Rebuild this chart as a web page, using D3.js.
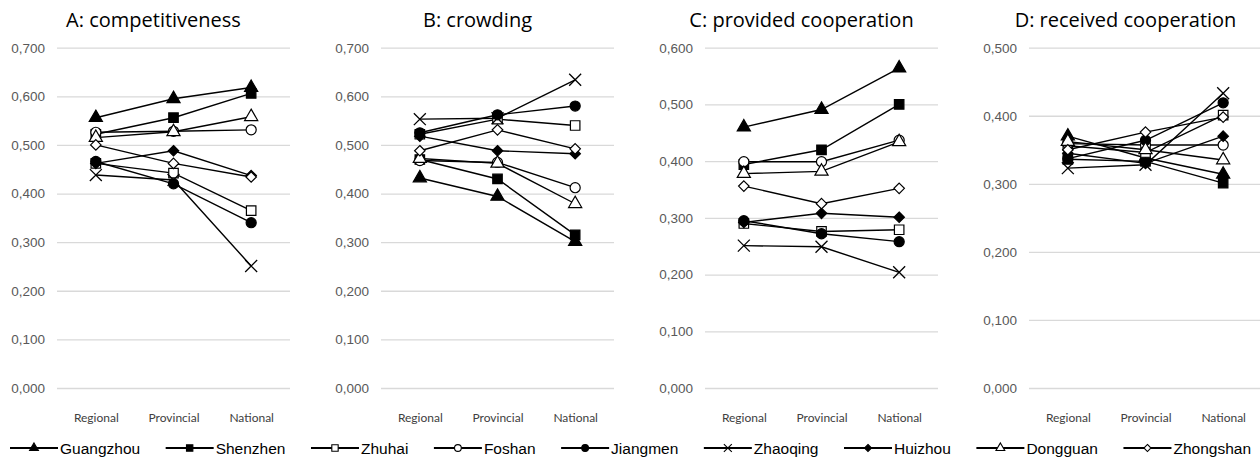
<!DOCTYPE html>
<html>
<head>
<meta charset="utf-8">
<script src="https://cdn.jsdelivr.net/npm/d3@7"></script>
<style>
body { margin: 0; background: #fff; }
svg { display: block; }
</style>
</head>
<body>
<svg id="chart" width="1260" height="467"></svg>
<script>
var categories = ["Regional", "Provincial", "National"];
var cities = ["Guangzhou", "Shenzhen", "Zhuhai", "Foshan", "Jiangmen", "Zhaoqing", "Huizhou", "Dongguan", "Zhongshan"];
var titles = ["A: competitiveness", "B: crowding", "C: provided cooperation", "D: received cooperation"];
var axisMax = [0.7, 0.7, 0.6, 0.5];

// rows follow the order of cities, columns follow categories
var competitiveness = [
    [0.556, 0.595, 0.618],
    [0.522, 0.556, 0.606],
    [0.462, 0.442, 0.365],
    [0.526, 0.528, 0.531],
    [0.466, 0.420, 0.340],
    [0.438, 0.428, 0.251],
    [0.462, 0.488, 0.437],
    [0.515, 0.527, 0.558],
    [0.500, 0.462, 0.434]
];
var crowding = [
    [0.432, 0.394, 0.301],
    [0.470, 0.430, 0.315],
    [0.522, 0.553, 0.540],
    [0.468, 0.464, 0.412],
    [0.525, 0.562, 0.580],
    [0.553, 0.555, 0.634],
    [0.518, 0.488, 0.482],
    [0.472, 0.462, 0.379],
    [0.488, 0.531, 0.492]
];
var providedCooperation = [
    [0.460, 0.491, 0.564],
    [0.394, 0.420, 0.500],
    [0.290, 0.276, 0.279],
    [0.399, 0.399, 0.437],
    [0.295, 0.272, 0.258],
    [0.251, 0.249, 0.204],
    [0.292, 0.308, 0.301],
    [0.378, 0.382, 0.434],
    [0.356, 0.325, 0.352]
];
var receivedCooperation = [
    [0.370, 0.338, 0.314],
    [0.336, 0.333, 0.301],
    [0.356, 0.346, 0.401],
    [0.359, 0.357, 0.357],
    [0.337, 0.364, 0.419],
    [0.323, 0.328, 0.433],
    [0.345, 0.330, 0.370],
    [0.362, 0.350, 0.335],
    [0.350, 0.376, 0.398]
];
var panelValues = [competitiveness, crowding, providedCooperation, receivedCooperation];

// marker per city: shape, filled?
var markers = {
    Guangzhou: [d3.symbolTriangle, true],
    Shenzhen: [d3.symbolSquare, true],
    Zhuhai: [d3.symbolSquare, false],
    Foshan: [d3.symbolCircle, false],
    Jiangmen: [d3.symbolCircle, true],
    Zhaoqing: [d3.symbolTimes, false],
    Huizhou: [d3.symbolDiamond2, true],
    Dongguan: [d3.symbolTriangle, false],
    Zhongshan: [d3.symbolDiamond2, false]
};
var markerSize = { triangle: 75, square: 90, circle: 80, times: 95, diamond: 70 };

function sizeOf(shape) {
    if (shape === d3.symbolTriangle) return markerSize.triangle;
    if (shape === d3.symbolSquare) return markerSize.square;
    if (shape === d3.symbolCircle) return markerSize.circle;
    if (shape === d3.symbolTimes) return markerSize.times;
    return markerSize.diamond;
}

var svg = d3.select("#chart");
var commaLocale = d3.formatLocale({ decimal: ",", thousands: ".", grouping: [3], currency: ["", ""] });
var fmt = commaLocale.format(".3f");

var plotTop = 47.7, plotBottom = 388, plotWidth = 233;

function drawPanel(i) {
    var x0 = 57 + i * 324;
    var g = svg.append("g").attr("class", "panel");

    var x = d3.scalePoint().domain(categories).range([x0, x0 + plotWidth]).padding(0.5);
    var y = d3.scaleLinear().domain([0, axisMax[i]]).range([plotBottom, plotTop]);
    var ticks = d3.range(0, Math.round(axisMax[i] * 10) + 1).map(d => d / 10);

    var yAxis = g.append("g")
        .attr("transform", "translate(" + x0 + ",0)")
        .call(d3.axisLeft(y).tickValues(ticks).tickSize(-plotWidth).tickPadding(12).tickFormat(fmt));
    yAxis.select(".domain").remove();
    yAxis.selectAll(".tick line").attr("stroke", "#d9d9d9").attr("stroke-width", 1.3);
    yAxis.selectAll(".tick text")
        .attr("fill", "#595959")
        .style("font-family", "'Liberation Sans', Arial, sans-serif")
        .style("font-size", "13.5px");

    var xAxis = g.append("g")
        .attr("transform", "translate(0,413)")
        .call(d3.axisBottom(x).tickSize(0).tickPadding(0));
    xAxis.select(".domain").remove();
    xAxis.selectAll(".tick text")
        .attr("fill", "#404040")
        .attr("dy", "0.71em")
        .style("font-family", "Lato, 'Open Sans', sans-serif")
        .style("font-size", "12px");

    g.append("text")
        .attr("x", x0 + plotWidth / 2 - 20)
        .attr("y", 27)
        .attr("text-anchor", "middle")
        .attr("fill", "#000")
        .style("font-family", "'Open Sans', Lato, sans-serif")
        .style("font-size", "20px")
        .text(titles[i]);

    var line = d3.line().x((d, j) => x(categories[j])).y(d => y(d));

    panelValues[i].forEach(function(row, k) {
        var city = cities[k];
        var m = markers[city];
        var series = g.append("g").attr("class", "series");
        series.append("path")
            .attr("d", line(row))
            .attr("fill", "none")
            .attr("stroke", "#000")
            .attr("stroke-width", 1.4);
        series.selectAll(".pt")
            .data(row)
            .enter()
            .append("path")
            .classed("pt", true)
            .attr("transform", (d, j) => "translate(" + x(categories[j]) + "," + y(d) + ")")
            .attr("d", d3.symbol().type(m[0]).size(sizeOf(m[0])))
            .attr("fill", m[0] === d3.symbolTimes ? "none" : (m[1] ? "#000" : "#fff"))
            .attr("stroke", "#000")
            .attr("stroke-width", m[0] === d3.symbolTimes ? 1.3 : 1.2);
    });
}

for (var i = 0; i < titles.length; i++) drawPanel(i);

// legend, laid out left to right, spread between x=10 and x=1251
var legend = svg.append("g").attr("class", "legend");
var ly = 448, lineLen = 48, legendLeft = 10, legendRight = 1251;
var items = cities.map(function(city) {
    var m = markers[city];
    var item = legend.append("g");
    item.append("line")
        .attr("x1", 0).attr("x2", lineLen)
        .attr("y1", ly).attr("y2", ly)
        .attr("stroke", "#000").attr("stroke-width", 2);
    item.append("path")
        .attr("transform", "translate(" + (lineLen / 2) + "," + ly + ")")
        .attr("d", d3.symbol().type(m[0]).size(sizeOf(m[0]) * 0.45))
        .attr("fill", m[0] === d3.symbolTimes ? "none" : (m[1] ? "#000" : "#fff"))
        .attr("stroke", "#000")
        .attr("stroke-width", 1.1);
    var t = item.append("text")
        .attr("x", lineLen + 2)
        .attr("y", ly)
        .attr("dy", "0.36em")
        .attr("fill", "#000")
        .style("font-family", "'Liberation Sans', Arial, sans-serif")
        .style("font-size", "15.5px")
        .text(city);
    return { g: item, w: lineLen + 2 + t.node().getComputedTextLength() };
});
var totalW = d3.sum(items, d => d.w);
var gap = (legendRight - legendLeft - totalW) / (items.length - 1);
var lx = legendLeft;
items.forEach(function(it) {
    it.g.attr("transform", "translate(" + lx + ",0)");
    lx += it.w + gap;
});
</script>
</body>
</html>
